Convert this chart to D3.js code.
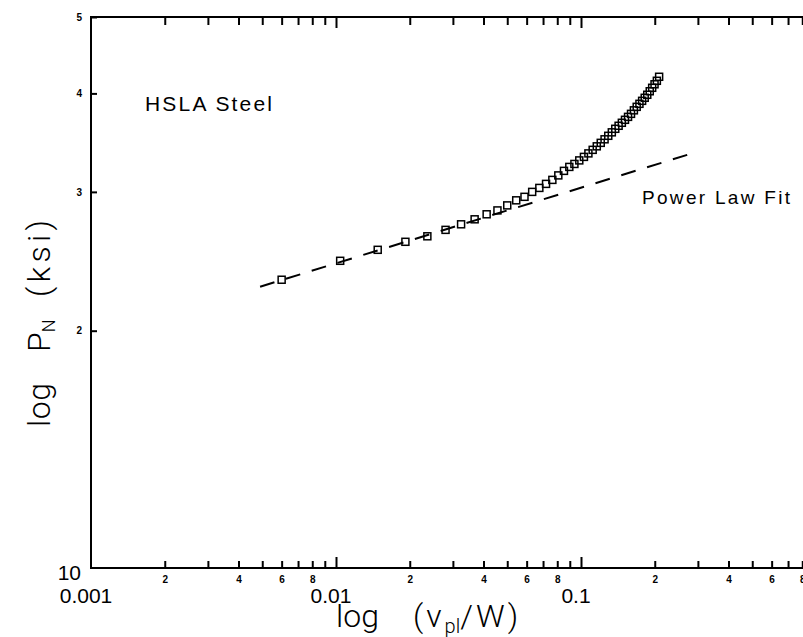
<!DOCTYPE html>
<html lang="en">
<head>
<meta charset="UTF-8">
<title>HSLA Steel - log PN vs log vpl/W</title>
<script src="https://cdn.jsdelivr.net/npm/d3@7"></script>
<style>
    body { margin: 0; background: #fff; }
    svg { display: block; }
    .ticks line { stroke: #000; stroke-width: 2; }
    .tiny { font: bold 10px "Liberation Sans", Arial, sans-serif; fill: #000; }
    .big { font: 21px "Liberation Sans", Arial, sans-serif; fill: #000; }
    .note { font: 21px "Liberation Sans", Arial, sans-serif; fill: #000; }
    .title { font: 300 32px Roboto, "Liberation Sans", sans-serif; fill: #000; }
</style>
</head>
<body>
<div id="chart"></div>
<script>
"use strict";

// measured points (v_pl/W, P_N in ksi)
var vplW = [0.0060, 0.0104, 0.0148, 0.0192, 0.0236, 0.0280, 0.0324, 0.0368, 0.0412, 0.0456,
            0.0500, 0.0544, 0.0588, 0.0632, 0.0676, 0.0720, 0.0764, 0.0808, 0.0852, 0.0896,
            0.0940, 0.0984, 0.1028, 0.1072, 0.1116, 0.1160, 0.1204, 0.1248, 0.1292, 0.1336,
            0.1380, 0.1424, 0.1468, 0.1512, 0.1556, 0.1600, 0.1644, 0.1688, 0.1732, 0.1776,
            0.1820, 0.1864, 0.1908, 0.1952, 0.1996, 0.2040, 0.2084];
var pN = [23.21, 24.53, 25.33, 25.93, 26.35, 26.85, 27.29, 27.69, 28.10, 28.42,
          28.84, 29.27, 29.57, 30.00, 30.35, 30.71, 31.07, 31.48, 31.90, 32.27,
          32.55, 32.89, 33.23, 33.57, 33.92, 34.27, 34.62, 34.98, 35.34, 35.70,
          36.07, 36.39, 36.71, 37.03, 37.35, 37.68, 38.07, 38.46, 38.80, 39.14,
          39.49, 39.84, 40.25, 40.66, 41.08, 41.50, 41.99];

// power law fit, end points of the dashed line
var fitX = [0.0049, 0.284];
var fitP = [22.74, 33.57];

var xDecades = [0.001, 0.01, 0.1];
var xDecadeLabels = ["0.001", "0.01", "0.1"];
var minorSteps = [2, 3, 4, 5, 6, 7, 8, 9];
var minorLabels = ["2", "4", "6", "8"];
var yTicks = [20, 30, 40, 50];
var yTickLabels = ["2", "3", "4", "5"];

var width = 803, height = 637;

var x = d3.scaleLog().domain([0.001, 1]).range([91, 826]);
var y = d3.scaleLog().domain([10, 50]).range([568, 17]);

var svg = d3.select('#chart').append('svg')
    .attr('width', width)
    .attr('height', height);

svg.append('rect')
    .attr('width', width).attr('height', height)
    .attr('fill', '#fff');

function mantissa(d) {
    return Math.round(d / Math.pow(10, Math.floor(Math.log10(d) + 1e-9)));
}

var minorVals = xDecades.flatMap(function(d) {
    return minorSteps.map(function(m) { return m * d; });
});

// bottom axis: minor ticks with small labels
var bottomMinor = svg.append('g')
    .attr('class', 'ticks')
    .attr('transform', 'translate(0,' + y(10) + ')')
    .call(d3.axisBottom(x).tickValues(minorVals).tickSize(-7).tickPadding(8)
        .tickFormat(function(d) {
            var m = String(mantissa(d));
            return minorLabels.indexOf(m) >= 0 ? m : '';
        }));
bottomMinor.select('.domain').remove();
bottomMinor.selectAll('text').attr('class', 'tiny').attr('font-size', null).attr('font-family', null);

var bottomMajor = svg.append('g')
    .attr('class', 'ticks')
    .attr('transform', 'translate(0,' + y(10) + ')')
    .call(d3.axisBottom(x).tickValues(xDecades.slice(1)).tickSize(-11).tickFormat(''));
bottomMajor.select('.domain').remove();

svg.selectAll('text.dec').data(xDecades).enter().append('text')
    .attr('class', 'big dec')
    .attr('x', function(d) { return x(d) - 5; })
    .attr('y', 603)
    .attr('text-anchor', 'middle')
    .text(function(d, i) { return xDecadeLabels[i]; });

// top axis
var topMinor = svg.append('g')
    .attr('class', 'ticks')
    .attr('transform', 'translate(0,' + y(50) + ')')
    .call(d3.axisTop(x).tickValues(minorVals).tickSize(-8).tickFormat(''));
topMinor.select('.domain').remove();
var topMajor = svg.append('g')
    .attr('class', 'ticks')
    .attr('transform', 'translate(0,' + y(50) + ')')
    .call(d3.axisTop(x).tickValues(xDecades.slice(1)).tickSize(-11).tickFormat(''));
topMajor.select('.domain').remove();

// left axis
var left = svg.append('g')
    .attr('class', 'ticks')
    .attr('transform', 'translate(' + x(0.001) + ',0)')
    .call(d3.axisLeft(y).tickValues(yTicks).tickSize(-6).tickPadding(9)
        .tickFormat(function(d, i) { return yTickLabels[i]; }));
left.select('.domain').remove();
left.selectAll('text').attr('class', 'tiny').attr('font-size', null).attr('font-family', null);

svg.append('text')
    .attr('class', 'big')
    .attr('x', 81).attr('y', 580)
    .attr('text-anchor', 'end')
    .text('10');

// frame
svg.append('rect')
    .attr('x', x(0.001)).attr('y', y(50))
    .attr('width', x(1) - x(0.001)).attr('height', y(10) - y(50))
    .attr('fill', 'none').attr('stroke', '#000').attr('stroke-width', 2);

// power law fit
var line = d3.line()
    .x(function(d) { return x(d[0]); })
    .y(function(d) { return y(d[1]); });

svg.append('path')
    .datum(d3.zip(fitX, fitP))
    .attr('d', line)
    .attr('fill', 'none')
    .attr('stroke', '#000')
    .attr('stroke-width', 2)
    .attr('stroke-dasharray', '15,12');

// data squares
var s = 7;
svg.selectAll('rect.pt').data(d3.zip(vplW, pN)).enter().append('rect')
    .attr('class', 'pt')
    .attr('x', function(d) { return x(d[0]) - s / 2; })
    .attr('y', function(d) { return y(d[1]) - s / 2; })
    .attr('width', s).attr('height', s)
    .attr('fill', 'none')
    .attr('stroke', '#000')
    .attr('stroke-width', 1.5);

// annotations
svg.append('text')
    .attr('class', 'note')
    .attr('x', 145).attr('y', 111)
    .attr('textLength', 127).attr('lengthAdjust', 'spacing')
    .text('HSLA  Steel');

svg.append('text')
    .attr('class', 'note')
    .attr('x', 642).attr('y', 204)
    .style('font-size', '19px')
    .attr('textLength', 148).attr('lengthAdjust', 'spacing')
    .text('Power  Law  Fit');

// x title
var xt = svg.append('text').attr('class', 'title').attr('y', 627);
xt.append('tspan').attr('x', 336).text('log');
xt.append('tspan').attr('x', 413).style('letter-spacing', '3px').text('(v');
xt.append('tspan').attr('dy', 6).style('font-size', '20px').text('pl');
xt.append('tspan').attr('dy', -6).style('letter-spacing', '3px').text('/W)');

// y title
var yt = svg.append('g').attr('transform', 'translate(50,0) rotate(-90)');
yt.append('text').attr('class', 'title')
    .attr('x', -427).attr('y', 0)
    .attr('textLength', 44).attr('lengthAdjust', 'spacing')
    .text('log');
var pn = yt.append('text').attr('class', 'title').attr('x', -352).attr('y', 0);
pn.append('tspan').text('P');
pn.append('tspan').attr('dy', 5).style('font-size', '18px').text('N');
yt.append('text').attr('class', 'title')
    .attr('x', -297).attr('y', 0)
    .attr('textLength', 77).attr('lengthAdjust', 'spacing')
    .text('(ksi)');
</script>
</body>
</html>
